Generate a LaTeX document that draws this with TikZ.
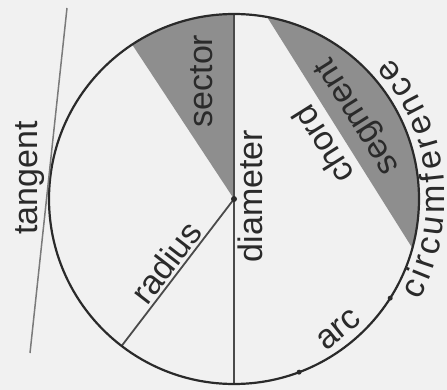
\documentclass[tikz,border=0pt]{standalone}
\usepackage{fontspec}
\setmainfont{Liberation Sans}
\usetikzlibrary{decorations.text}
\definecolor{bg}{HTML}{F1F1F1}
\definecolor{areagray}{HTML}{8E8E8E}
\definecolor{ink}{HTML}{2A2A2A}
\definecolor{tline}{HTML}{7A7A7A}
\begin{document}
\begin{tikzpicture}[x=1pt,y=1pt,
  lbl/.style={font=\fontsize{34}{40}\selectfont, text=ink, inner sep=0pt},
  rim/.style={draw=ink, line width=2.2pt},
  inline/.style={draw=ink!85, line width=1.8pt},
  tanline/.style={draw=tline, line width=1.5pt},
  areafill/.style={fill=areagray},
  dotmark/.style={fill=ink, circle, inner sep=0pt, minimum size=6pt}]
\useasboundingbox (0,0) rectangle (447,-390);
\fill[bg] (0,0) rectangle (447,-390);
\coordinate (C) at (234,-199);
\def\R{185}
\path (C) ++(123.4:\R) coordinate (S1);
\path (C) ++(90:\R) coordinate (T);
\path (C) ++(270:\R) coordinate (B);
\path (C) ++(232.6:\R) coordinate (RE);
\path (C) ++(79.7:\R) coordinate (K1);
\path (C) ++(-15.4:\R) coordinate (K2);
\path (C) ++(-32.4:\R) coordinate (A1);
\path (C) ++(-69.4:\R) coordinate (A2);
% sector and segment
\path[areafill] (C) -- (S1) arc[start angle=123.4, end angle=90, radius=\R] -- cycle;
\path[areafill] (K1) arc[start angle=79.7, end angle=-15.4, radius=\R] -- (K2) -- cycle;
% diameter and radius
\draw[inline] (T) -- (B);
\draw[inline] (C) -- (RE);
% circle
\draw[rim] (C) circle[radius=\R];
% tangent
\coordinate (tg1) at (67,-8);
\coordinate (tg2) at (30,-353);
\draw[tanline] (tg1) -- (tg2);
% points
\node[dotmark] (cdot) at (C) {};
\node[dotmark, minimum size=5pt] (adot1) at (A1) {};
\node[dotmark, minimum size=5pt] (adot2) at (A2) {};
% labels
\node[lbl, rotate=90, anchor=base] (ltangent) at (37,-178) {tangent};
\node[lbl, rotate=90, anchor=base] (lsector) at (212,-81) {sector};
\node[lbl, rotate=90, anchor=base] (ldiam) at (262,-196) {diameter};
\node[lbl, rotate=52.3] (lradius) at (166,-262) {radius};
\node[lbl, rotate=122.1] (lchord) at (323,-145) {chord};
\node[lbl, rotate=122.1] (lsegment) at (359,-116) {segment};
\node[lbl, rotate=39] (larc) at (339,-330) {arc};
\path[decorate, decoration={text along path,
   text={|\fontsize{34}{40}\selectfont\color{ink}|circumference},
   text align={fit to path}}]
  (C) ++(-28.7:211) arc[start angle=-28.7, end angle=42, radius=211];
\end{tikzpicture}
\end{document}
